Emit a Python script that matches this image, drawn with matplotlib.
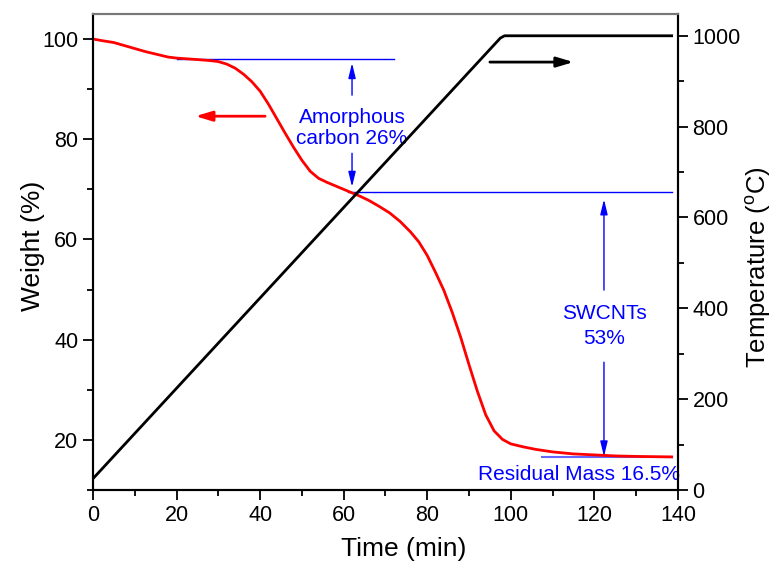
import numpy as np
import matplotlib
matplotlib.use("Agg")
import matplotlib.pyplot as plt
from matplotlib.ticker import MultipleLocator

plt.rcParams['font.family'] = ['Liberation Sans', 'DejaVu Sans']
plt.rcParams['mathtext.fontset'] = 'custom'
plt.rcParams['mathtext.rm'] = 'Liberation Sans'

# TGA weight curve
time_w = [0, 2, 5, 7.5, 10, 12.5, 15, 18, 20, 25, 28, 30, 32, 34, 36, 38, 40, 42,
          44, 46, 48, 50, 52, 54, 56, 58, 60, 62, 64, 66, 68.5, 71, 73.5, 76, 78,
          80, 82, 84, 86, 88, 90, 92, 94, 96, 98, 100, 103, 106, 110, 115, 120,
          125, 130, 138.5]
weight = [100.0, 99.7, 99.3, 98.7, 98.1, 97.5, 97.0, 96.4, 96.2, 95.9, 95.7, 95.5,
          95.0, 94.2, 93.0, 91.5, 89.6, 87.0, 84.1, 81.2, 78.4, 75.8, 73.6, 72.2,
          71.4, 70.7, 70.0, 69.3, 68.6, 67.8, 66.6, 65.3, 63.6, 61.5, 59.5, 56.8,
          53.4, 49.8, 45.4, 40.5, 35.0, 29.7, 25.0, 21.8, 20.1, 19.2, 18.6, 18.1,
          17.6, 17.2, 17.0, 16.8, 16.7, 16.6]

# temperature program
time_t = [0, 97.5, 98.5, 138.5]
temp = [25, 995, 1000, 1000]

# reference levels (weight %)
level_start = 96.0
level_amorph = 69.5
level_resid = 16.5

fig = plt.figure(figsize=(7.73, 5.66), dpi=100)
ax = fig.add_axes([0.1203, 0.1343, 0.877 - 0.1203, 0.9753 - 0.1343])
ax2 = ax.twinx()

blue = '#0000ff'
# level lines
ax.plot([20, 72], [level_start, level_start], color=blue, lw=1.0, zorder=1)
ax.plot([61, 138.5], [level_amorph, level_amorph], color=blue, lw=1.0, zorder=1)
ax.plot([107.5, 138.5], [level_resid, level_resid], color='#6666ff', lw=1.5, zorder=1)

ax.plot(time_w, weight, color='red', lw=2.0, zorder=3)
ax2.plot(time_t, temp, color='black', lw=2.0)

# blue double arrows
barrow = dict(arrowstyle='-|>,head_length=0.9,head_width=0.22', color=blue, lw=1.0,
              shrinkA=0, shrinkB=0)
ax.annotate('', xy=(62, 95.2), xytext=(62, 88.8), arrowprops=barrow)
ax.annotate('', xy=(62, 70.5), xytext=(62, 77.2), arrowprops=barrow)
ax.text(62, 82.3, 'Amorphous\ncarbon 26%', color=blue, fontsize=15,
        ha='center', va='center', linespacing=1.15)

ax.annotate('', xy=(122.3, 68.0), xytext=(122.3, 49.9), arrowprops=barrow)
ax.annotate('', xy=(122.3, 16.7), xytext=(122.3, 35.5), arrowprops=barrow)
ax.text(122.3, 42.7, 'SWCNTs\n53%', color=blue, fontsize=15,
        ha='center', va='center', linespacing=1.4)

ax.text(116.3, 13.0, 'Residual Mass 16.5%', color=blue, fontsize=15,
        ha='center', va='center')

# axis indicator arrows
ax.annotate('', xy=(24.5, 84.6), xytext=(41.2, 84.6),
            arrowprops=dict(arrowstyle='-|>,head_length=1.0,head_width=0.3',
                            color='red', lw=2.0, shrinkA=0, shrinkB=0))
ax.annotate('', xy=(115, 95.4), xytext=(95, 95.4),
            arrowprops=dict(arrowstyle='-|>,head_length=1.0,head_width=0.3',
                            color='black', lw=2.0, shrinkA=0, shrinkB=0))

ax.set_xlim(0, 140)
ax.set_ylim(10, 105)
ax2.set_ylim(0, 1048)

ax.xaxis.set_major_locator(MultipleLocator(20))
ax.xaxis.set_minor_locator(MultipleLocator(10))
ax.yaxis.set_major_locator(MultipleLocator(20))
ax.yaxis.set_minor_locator(MultipleLocator(10))
ax2.yaxis.set_major_locator(MultipleLocator(200))
ax2.yaxis.set_minor_locator(MultipleLocator(100))

for a in (ax, ax2):
    a.tick_params(which='major', direction='out', length=7, width=1.3, labelsize=15.5)
    a.tick_params(which='minor', direction='out', length=4, width=1.3)
    for s in a.spines.values():
        s.set_linewidth(1.5)
    a.spines['top'].set_color('#777777')

ax.set_xlabel('Time (min)', fontsize=19)
ax.set_ylabel('Weight (%)', fontsize=19)
ax2.set_ylabel(r'Temperature ($^{\rm o}$C)', fontsize=18.5)
ax.xaxis.set_label_coords(0.531, -0.099)
ax.yaxis.set_label_coords(-0.082, 0.513)
ax2.yaxis.set_label_coords(1.111, 0.468)

fig.savefig('out.png', dpi=100)
